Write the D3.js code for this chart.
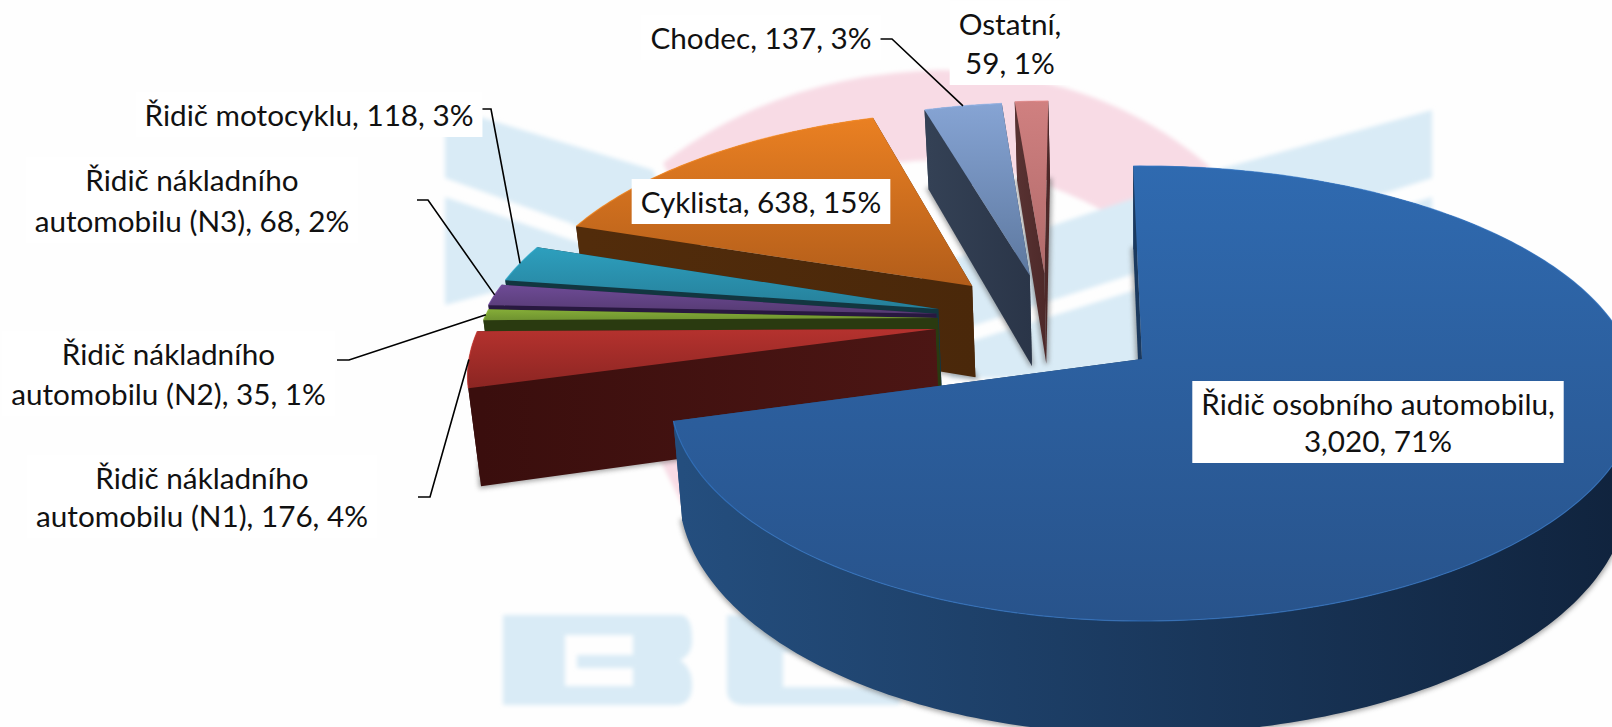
<!DOCTYPE html>
<html>
<head>
<meta charset="utf-8">
<script src="https://cdn.jsdelivr.net/npm/d3@7"></script>
<style>
  html, body { margin: 0; padding: 0; background: #fefefe; overflow: hidden; }
  text { font-family: Lato, Carlito, sans-serif; fill: #111; }
</style>
</head>
<body>
<div id="dataViz"></div>
<script>
const width = 1612;
const height = 727;

// Chart data, in drawing order of the pie (clockwise from the top)
const categories = [
  "Řidič osobního automobilu",
  "Řidič nákladního automobilu (N1)",
  "Řidič nákladního automobilu (N2)",
  "Řidič nákladního automobilu (N3)",
  "Řidič motocyklu",
  "Cyklista",
  "Chodec",
  "Ostatní"
];
const values = [3020, 176, 35, 68, 118, 638, 137, 59];

// Colours: top face gradient, side gradient (left to right)
const topColours = [
  ["#2f6ab0", "#28538b"], ["#b5322e", "#8b2522"], ["#85ad38", "#6f9330"], ["#6e4b96", "#553a72"],
  ["#2d9fbe", "#267f99"], ["#ea8022", "#b25d1a"], ["#86a4d4", "#5d789f"], ["#d08080", "#b06a6a"]
];
const sideColours = [
  ["#244e7e", "#10233d"], ["#3a0e0d", "#4c1614"], ["#2a3a10", "#2a3a10"], ["#281840", "#281840"],
  ["#123640", "#123640"], ["#522c0b", "#4a280a"], ["#344155", "#2a3548"], ["#583232", "#4c2828"]
];

// Where each slice was pulled to, in ground-plane units of the pie radius
const sliceOffsets = [
  [0, 0], [-0.452, -0.138], [-0.45, -0.19], [-0.455, -0.21],
  [-0.452, -0.233], [-0.383, -0.345], [-0.255, -0.398], [-0.222, -0.409]
];
const paintOrder = [5, 7, 6, 4, 3, 2, 1, 0];

// Label placement: lines are split after the given word count of the full label
const labelSpots = [
  { x: 1378, y: 405, breakAfter: 3, gap: 37 },
  { x: 202, y: 479, breakAfter: 2, gap: 38, elbow: [[418, 497], [430, 497]] },
  { x: 168.5, y: 355, breakAfter: 2, gap: 40, elbow: [[337, 360], [349, 360]] },
  { x: 192, y: 181, breakAfter: 2, gap: 41, elbow: [[417, 200], [428, 200]] },
  { x: 309, y: 116, breakAfter: 0, elbow: [[480, 109], [491, 109]] },
  { x: 761, y: 203, breakAfter: 0 },
  { x: 761, y: 39, breakAfter: 0, elbow: [[877, 39], [892, 39]] },
  { x: 1010, y: 25, breakAfter: 1, gap: 39 }
];

// Perspective camera fitted to the ellipse of the big slice
const cam = { x0: 1142, y0: 359, s: 466.6, t: 222.3, p: 0.1516, depth: 96, shrink: 0.981, rightStretch: 1.05 };

function project(u, v, down) {
  const w = 1 - cam.p * v;
  const x = cam.s * u / w;
  const y = cam.t * v / w;
  if (!down) return [cam.x0 + x, cam.y0 + y];
  return [cam.x0 + x * cam.shrink, cam.y0 + y + cam.depth / w];
}

const line = d3.line();
const pie = d3.pie().sort(null)
  .startAngle(-1.25 * Math.PI / 180)
  .endAngle(358.75 * Math.PI / 180);

const arcs = pie(values);
const total = d3.sum(values);
const fmt = d3.format(",");

function rim(d, i, down) {
  const n = Math.max(6, Math.ceil((d.endAngle - d.startAngle) * 60));
  const [ou, ov] = sliceOffsets[i];
  return d3.range(n + 1).map(k => {
    const a = d.startAngle + (d.endAngle - d.startAngle) * k / n;
    const su = Math.sin(a);
    return project(ou + (su > 0 ? su * cam.rightStretch : su), ov - Math.cos(a), down);
  });
}

const svg = d3.select("#dataViz").append("svg")
  .attr("width", width)
  .attr("height", height)
  .attr("viewBox", [0, 0, width, height])
  .style("display", "block");

const defs = svg.append("defs");
defs.append("filter").attr("id", "soft").append("feGaussianBlur").attr("stdDeviation", 2);
const shadowFilter = defs.append("filter").attr("id", "shadow")
  .attr("x", "-20%").attr("y", "-20%").attr("width", "140%").attr("height", "140%");
shadowFilter.append("feGaussianBlur").attr("stdDeviation", 2.5);

arcs.forEach((d, i) => {
  const topGrad = defs.append("linearGradient").attr("id", `top${i}`)
    .attr("x1", 0).attr("y1", 0).attr("x2", 0).attr("y2", 1);
  topGrad.append("stop").attr("offset", "0%").attr("stop-color", topColours[i][0]);
  topGrad.append("stop").attr("offset", "100%").attr("stop-color", topColours[i][1]);

  // one side gradient per slice, shared by all its walls
  const xs = [...rim(d, i, true).map(p => p[0]), project(sliceOffsets[i][0], sliceOffsets[i][1], true)[0]];
  const sideGrad = defs.append("linearGradient").attr("id", `side${i}`)
    .attr("gradientUnits", "userSpaceOnUse")
    .attr("x1", d3.min(xs)).attr("y1", 0).attr("x2", d3.max(xs)).attr("y2", 0);
  sideGrad.append("stop").attr("offset", "0%").attr("stop-color", sideColours[i][0]);
  sideGrad.append("stop").attr("offset", "100%").attr("stop-color", sideColours[i][1]);
});

// Faded logo behind the pie
const logo = svg.append("g").attr("filter", "url(#soft)");
logo.append("path")
  .attr("d", "M663,163 Q780,74 940,70 Q1100,72 1210,167 L1150,240 Q1060,175 940,160 Q820,160 700,240 Z")
  .attr("fill", "#f8dbe5");
logo.append("path")
  .attr("d", "M650,440 L700,440 L800,560 L700,540 Z")
  .attr("fill", "#f8dbe5");
const logoBlue = [
  "M445,125 L480,117 L653,170 L700,300 L570,223 L445,178 Z",
  "M445,197 L580,243 L600,290 L520,285 L445,305 Z",
  "M1432,110 L1227,167 L950,260 L950,333 L1432,178 Z",
  "M1432,197 L950,348 L950,378 L1160,378 L1432,260 Z",
  "M503,615 H680 Q692,615 692,640 Q692,655 680,660 Q692,668 692,685 Q692,705 675,705 H503 Z M565,635 V686 H633 V668 H577 V655 H633 V635 Z",
  "M727,615 H900 V705 H745 Q727,705 727,690 Z M783,652 V687 H900 V652 Z"
];
logo.selectAll(".logo-blue")
  .data(logoBlue)
  .enter()
  .append("path")
  .attr("class", "logo-blue")
  .attr("d", d => d)
  .attr("fill-rule", "evenodd")
  .attr("fill", "#d9ebf6");

// Slices, back to front
const slices = svg.append("g");
paintOrder.forEach(i => {
  const d = arcs[i];
  const g = slices.append("g").attr("class", "slice");
  const [ou, ov] = sliceOffsets[i];
  const topRim = rim(d, i, false);
  const lowRim = rim(d, i, true);
  const apexTop = project(ou, ov, false);
  const apexLow = project(ou, ov, true);

  // grey shadow of the underside
  g.append("path")
    .attr("d", line([apexLow, ...lowRim]) + "Z")
    .attr("fill", "#666")
    .attr("stroke", "#666")
    .attr("stroke-width", 4)
    .attr("opacity", 0.6)
    .attr("filter", "url(#shadow)");

  // walls
  const last = topRim.length - 1;
  [[apexTop, topRim[0], lowRim[0], apexLow],
   [apexTop, topRim[last], lowRim[last], apexLow]].forEach(quad => {
    g.append("path")
      .attr("d", line(quad) + "Z")
      .attr("fill", `url(#side${i})`);
  });
  g.append("path")
    .attr("d", line([...topRim, ...lowRim.slice().reverse()]) + "Z")
    .attr("fill", `url(#side${i})`);

  // top face
  g.append("path")
    .attr("d", line([apexTop, ...topRim]) + "Z")
    .attr("fill", `url(#top${i})`);
  g.append("path")
    .attr("d", line(topRim))
    .attr("fill", "none")
    .attr("stroke", d3.color(topColours[i][0]).brighter(0.35))
    .attr("stroke-width", 1.2)
    .attr("opacity", 0.7);
});

// Leader lines end on the middle of the slice rim
const leaders = svg.append("g");
arcs.forEach((d, i) => {
  const spot = labelSpots[i];
  if (!spot.elbow) return;
  const mid = (d.startAngle + d.endAngle) / 2;
  const end = project(sliceOffsets[i][0] + Math.sin(mid), sliceOffsets[i][1] - Math.cos(mid), false);
  leaders.append("path")
    .attr("d", line([...spot.elbow, end]))
    .attr("fill", "none")
    .attr("stroke", "#000")
    .attr("stroke-width", 1.6);
});

// Data labels on white boxes
const labels = svg.append("g");
arcs.forEach((d, i) => {
  const spot = labelSpots[i];
  const pct = Math.round(100 * values[i] / total);
  const words = categories[i].split(" ");
  const tail = `${fmt(values[i])}, ${pct}%`;
  let rows;
  if (!spot.breakAfter) {
    rows = [`${categories[i]}, ${tail}`];
  } else if (spot.breakAfter >= words.length) {
    rows = [`${categories[i]},`, tail];
  } else {
    rows = [words.slice(0, spot.breakAfter).join(" "), `${words.slice(spot.breakAfter).join(" ")}, ${tail}`];
  }
  const g = labels.append("g");
  const box = g.append("rect").attr("fill", "#fff");
  const txt = g.append("text")
    .attr("text-anchor", "middle")
    .style("font-size", "29.7px");
  rows.forEach((row, r) => {
    txt.append("tspan")
      .attr("x", spot.x)
      .attr("y", spot.y + r * (spot.gap || 0) + 10)
      .text(row);
  });
  const bb = txt.node().getBBox();
  box.attr("x", bb.x - 9).attr("y", bb.y - 5)
    .attr("width", bb.width + 18).attr("height", bb.height + 10);
});
</script>
</body>
</html>
